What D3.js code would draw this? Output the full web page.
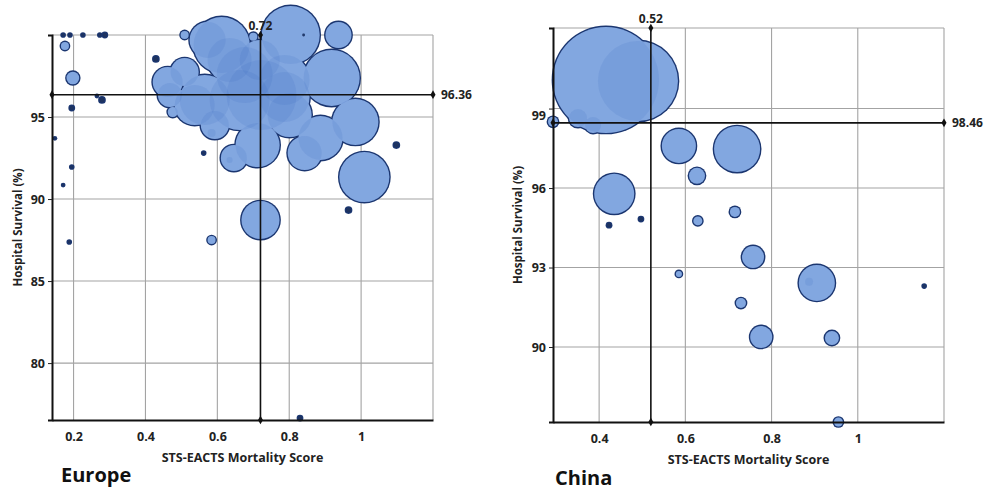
<!DOCTYPE html>
<html>
<head>
<meta charset="utf-8">
<script src="https://cdn.jsdelivr.net/npm/d3@7"></script>
<style>
  body { margin: 0; background: #fff; }
  text { font-family: "Open Sans", "DejaVu Sans", sans-serif; }
</style>
</head>
<body>
<script>
// Europe: STS-EACTS score, hospital survival (%), hospital volume
const euScore = [0.171, 0.19, 0.226, 0.273, 0.287, 0.176, 0.198, 0.195, 0.279, 0.265, 0.148, 0.195, 0.171, 0.188,
  0.509, 0.429, 0.476, 0.584, 0.562, 0.646, 0.634, 0.72, 0.584, 1.009, 0.965, 1.098, 0.984, 0.918, 0.937, 0.804, 0.84,
  0.887, 0.843, 0.83, 0.70,
  0.612, 0.573, 0.462, 0.509, 0.723, 0.662, 0.565, 0.787, 0.801, 0.712, 0.537, 0.468, 0.634, 0.718, 0.676, 0.787, 0.593];
const euSurvival = [100, 100, 100, 100, 100, 99.33, 97.38, 95.55, 96.04, 96.28, 93.7, 91.95, 90.85, 87.38,
  100, 98.54, 95.3, 94.02, 92.8, 92.5, 92.38, 88.72, 87.5, 91.34, 89.33, 93.29, 94.7, 97.38, 100, 100, 100,
  93.72, 92.8, 76.65, 99.9,
  99.39, 99.7, 97.13, 97.74, 96.34, 96.04, 96.04, 97.26, 95.12, 93.29, 95.73, 96.34, 98.48, 98.48, 97.56, 96.22, 94.51];
const euSize = [2, 2, 2, 2, 4, 16, 40, 4, 6, 1, 1, 2, 1, 2,
  16, 6, 25, 16, 2, 169, 9, 361, 16, 625, 6, 6, 529, 784, 169, 841, 2,
  484, 289, 4, 16,
  784, 324, 225, 196, 1225, 900, 625, 625, 484, 484, 400, 144, 484, 400, 784, 625, 196];

// China
const cnScore = [0.416, 0.49, 0.351, 0.386, 0.293, 0.585, 0.72, 0.627, 0.435, 0.423, 0.497, 0.629, 0.715,
  0.757, 0.585, 0.905, 0.887, 1.154, 0.729, 0.776, 0.94, 0.955];
const cnSurvival = [100.08, 100.04, 98.64, 98.38, 98.5, 97.59, 97.47, 96.46, 95.78, 94.6, 94.83, 94.76, 95.1,
  93.4, 92.76, 92.42, 92.46, 92.3, 91.66, 90.38, 90.34, 87.17];
const cnSize = [2809, 1600, 81, 64, 25, 289, 529, 64, 400, 4, 4, 20, 25,
  121, 9, 324, 16, 2, 25, 121, 49, 20];

const euXTicks = [0.2, 0.4, 0.6, 0.8, 1];
const euYTicks = [80, 85, 90, 95];
const cnXTicks = [0.4, 0.6, 0.8, 1];
const cnYTicks = [90, 93, 96, 99];

const euMedian = [0.72, 96.36];
const cnMedian = [0.52, 98.46];

const svg = d3.select('body').append('svg')
  .attr('width', 989)
  .attr('height', 491);

const rScale = d3.scaleSqrt().domain([0, 2809]).range([0, 53]);

const diamond = d3.symbol().type(d3.symbolDiamond).size(22);

function drawPanel(p) {
  const x = d3.scaleLinear().domain(p.xDomain).range([p.left, p.right]);
  const y = d3.scaleLinear().domain(p.yDomain).range([p.bottom, p.top]);
  const g = svg.append('g');

  // grid
  const grid = g.append('g').attr('stroke', '#a3a3a3').attr('stroke-width', 1.1);
  grid.selectAll('.vx').data(p.xTicks.concat([p.xDomain[1]])).join('line')
    .attr('x1', d => x(d)).attr('x2', d => x(d))
    .attr('y1', p.top).attr('y2', p.bottom);
  grid.selectAll('.hy').data(p.yTicks.concat([p.yDomain[1]])).join('line')
    .attr('y1', d => y(d)).attr('y2', d => y(d))
    .attr('x1', p.left).attr('x2', p.right);

  // bubbles: outline layer, fill layer, then a faint layer so overlaps darken
  const pts = p.score.map((s, i) => ({ x: x(s), y: y(p.surv[i]), r: rScale(p.size[i]) }))
    .sort((a, b) => b.r - a.r);
  g.append('g').selectAll('circle').data(pts).join('circle')
    .attr('cx', d => d.x).attr('cy', d => d.y).attr('r', d => d.r + 1.4)
    .attr('fill', '#1b3670');
  g.append('g').selectAll('circle').data(pts).join('circle')
    .attr('cx', d => d.x).attr('cy', d => d.y).attr('r', d => d.r)
    .attr('fill', d => d.r < 2.6 ? '#1a2a50' : '#8fb1e6');
  g.append('g').selectAll('circle').data(pts).join('circle')
    .attr('cx', d => d.x).attr('cy', d => d.y).attr('r', d => d.r)
    .attr('fill', '#3a68c2').attr('fill-opacity', 0.14);

  // axes
  const xAxis = d3.axisBottom(x).tickValues(p.xTicks).tickSize(0).tickPadding(12).tickFormat(d => d);
  const yAxis = d3.axisLeft(y).tickValues(p.yTicks).tickSize(4).tickPadding(3).tickFormat(d => d);
  const ax = g.append('g').attr('transform', `translate(0,${p.bottom})`).call(xAxis);
  const ay = g.append('g').attr('transform', `translate(${p.left},0)`).call(yAxis);
  ax.select('.domain').attr('stroke', '#111').attr('stroke-width', 2);
  ay.select('.domain').attr('stroke', '#111').attr('stroke-width', 2);
  [ax, ay].forEach(a => a.selectAll('text')
    .attr('font-family', '"Open Sans", sans-serif')
    .attr('font-size', 12.5).attr('font-weight', 700).attr('fill', '#222'));
  ay.selectAll('line').attr('stroke', '#222');
  if (p.yLabelShift) {
    ay.selectAll('.tick').filter(d => d === p.yLabelShift[0]).select('text')
      .attr('dy', p.yLabelShift[1]);
  }

  // median reference lines
  const mx = x(p.median[0]), my = y(p.median[1]);
  g.append('line').attr('x1', mx).attr('x2', mx).attr('y1', p.top).attr('y2', p.bottom)
    .attr('stroke', '#111').attr('stroke-width', 1.6);
  g.append('line').attr('x1', p.left).attr('x2', p.right).attr('y1', my).attr('y2', my)
    .attr('stroke', '#111').attr('stroke-width', 1.6);
  [[mx, p.top], [mx, p.bottom], [p.left, my], [p.right, my]].forEach(c => {
    g.append('path').attr('d', diamond).attr('transform', `translate(${c[0]},${c[1]})`).attr('fill', '#111');
  });
  g.append('text').attr('x', mx).attr('y', p.top - 5).attr('text-anchor', 'middle')
    .attr('font-size', 12).attr('font-weight', 700).attr('fill', '#222')
    .text(p.median[0]);
  g.append('text').attr('x', p.right + 8).attr('y', my).attr('dy', '0.35em')
    .attr('font-size', 12).attr('font-weight', 700).attr('fill', '#222')
    .text(p.median[1]);

  // titles
  g.append('text')
    .attr('transform', `translate(${p.yTitleX},${(p.top + p.bottom) / 2}) rotate(-90)`)
    .attr('text-anchor', 'middle').attr('dy', '0.35em')
    .attr('font-size', 11.5).attr('font-weight', 700).attr('fill', '#222')
    .text('Hospital Survival (%)');
  g.append('text').attr('x', (p.left + p.right) / 2).attr('y', p.bottom + 42)
    .attr('text-anchor', 'middle')
    .attr('font-size', 12.5).attr('font-weight', 700).attr('fill', '#222')
    .text('STS-EACTS Mortality Score');
  g.append('text').attr('x', p.nameX).attr('y', p.nameY)
    .attr('font-size', 20).attr('font-weight', 700).attr('fill', '#111')
    .text(p.name);
}

drawPanel({
  left: 52, right: 433, top: 35, bottom: 420,
  xDomain: [0.14, 1.2], yDomain: [76.53, 100],
  xTicks: euXTicks, yTicks: euYTicks,
  score: euScore, surv: euSurvival, size: euSize,
  median: euMedian, yTitleX: 18, name: 'Europe', nameX: 61, nameY: 482
});

drawPanel({
  left: 553, right: 944, top: 28, bottom: 422,
  xDomain: [0.293, 1.2], yDomain: [87.17, 102.04],
  xTicks: cnXTicks, yTicks: cnYTicks,
  score: cnScore, surv: cnSurvival, size: cnSize,
  median: cnMedian, yTitleX: 518, name: 'China', nameX: 555, nameY: 485,
  yLabelShift: [99, '0.85em']
});
</script>
</body>
</html>
